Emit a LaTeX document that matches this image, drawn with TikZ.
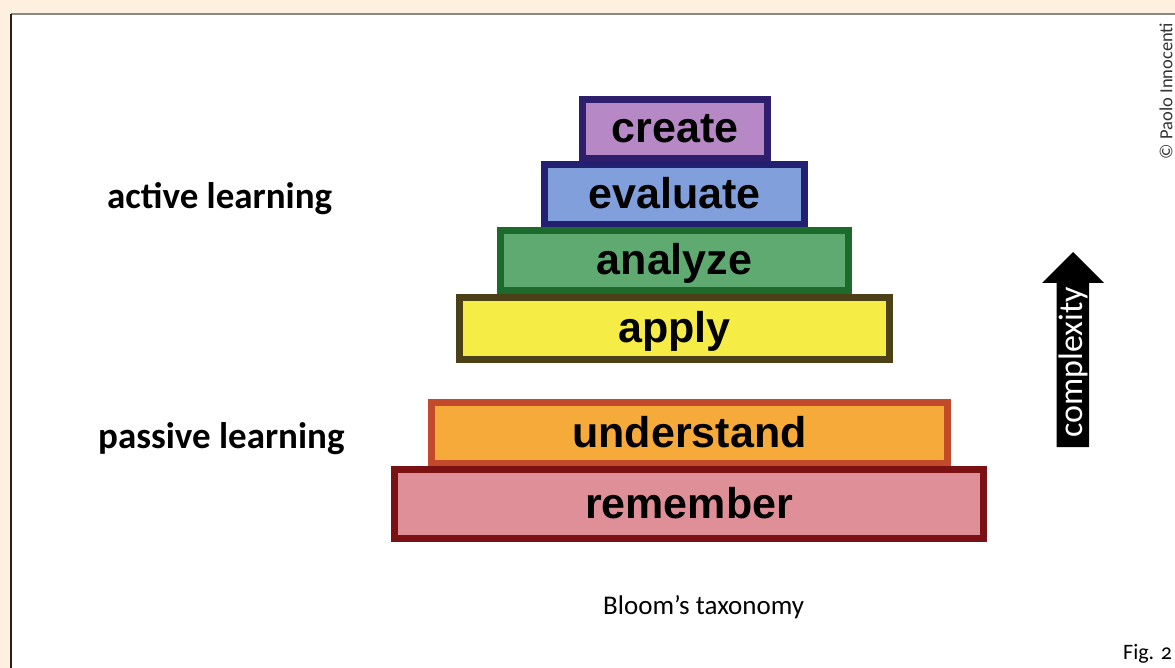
\documentclass[tikz,border=0pt]{standalone}
\usepackage{fontspec}
\setmainfont{Carlito}
\newfontfamily\tierfamily{Liberation Sans}
\usepackage{tikz}
\usetikzlibrary{positioning}
\definecolor{paper}{HTML}{FDF0DF}
\definecolor{rule}{HTML}{8C8782}
\definecolor{edge}{HTML}{2A2018}
\definecolor{credit}{HTML}{333333}
\definecolor{createfill}{HTML}{B689C6}\definecolor{createline}{HTML}{2D1F6B}
\definecolor{evaluatefill}{HTML}{819FDA}\definecolor{evaluateline}{HTML}{232071}
\definecolor{analyzefill}{HTML}{5FAA70}\definecolor{analyzeline}{HTML}{1D6A2D}
\definecolor{applyfill}{HTML}{F5EC45}\definecolor{applyline}{HTML}{4C4116}
\definecolor{understandfill}{HTML}{F5AA3A}\definecolor{understandline}{HTML}{C24A2B}
\definecolor{rememberfill}{HTML}{DE8F97}\definecolor{rememberline}{HTML}{7A1213}
\newcommand{\tierfont}{\tierfamily\bfseries\fontsize{43}{45}\selectfont}
\tikzset{
  tier/.style={draw=#1line,fill=#1fill,line width=7pt,inner sep=0pt,font=\tierfont,text height=28pt,text depth=0pt},
  side/.style={font=\bfseries\fontsize{37}{39}\selectfont,anchor=base west,inner sep=0pt},
  caption/.style={font=\fontsize{27}{29}\selectfont,anchor=base west,inner sep=0pt},
}

\begin{document}
\begin{tikzpicture}[x=1pt,y=-1pt]
\useasboundingbox (0,0) rectangle (1175,668);
% page and panel
\fill[paper] (0,0) rectangle (1175,668);
\fill[white] (11,14) rectangle (1175,668);
\draw[rule,line width=2.5pt] (11,14) -- (1175,14);
\draw[edge,line width=2pt] (11,14) -- (11,668);
% the six tiers, top down
\foreach \n/\cx/\cy/\w/\h in {create/675/129/185/59,evaluate/674.5/194.5/260/60,analyze/674.5/260.5/348/60,apply/674.5/328.5/430/62,understand/689.5/433/516/61,remember/689/504/589/69}{
  \node[tier=\n,minimum width=\w pt,minimum height=\h pt] (\n) at (\cx,\cy) {\n};
}
\node[side] (active) at (107,209) {active learning};
\node[side] (passive) at (98,448) {passive learning};
% complexity arrow
\fill[black] (1056.5,447) -- (1056.5,283) -- (1042,283) -- (1073,252) -- (1104,283) -- (1089,283) -- (1089,447) -- cycle;
\node[rotate=90,text=white,font=\fontsize{34}{36}\selectfont,inner sep=0pt] (cplx) at (1073,362) {complexity};
\node[caption] (bloom) at (603,614) {Bloom’s taxonomy};
\node[rotate=90,text=credit,font=\fontsize{18.5}{20}\selectfont,inner sep=0pt] (author) at (1166,91) {© Paolo Innocenti};
\node[caption,font=\fontsize{22}{24}\selectfont\addfontfeatures{Numbers=OldStyle}] (fig) at (1123,659) {Fig. 2};
\end{tikzpicture}
\end{document}
